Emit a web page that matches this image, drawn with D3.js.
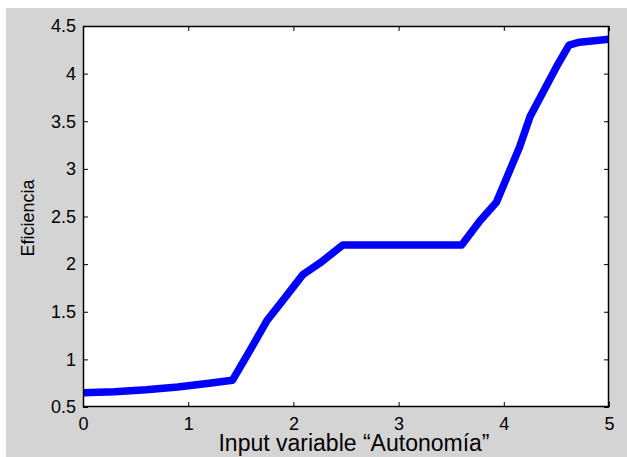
<!DOCTYPE html>
<html>
<head>
<meta charset="utf-8">
<script src="https://cdn.jsdelivr.net/npm/d3@7"></script>
<style>
  html, body { margin: 0; padding: 0; background: #ffffff; }
  svg { display: block; }
  text { font-family: "Liberation Sans", Arial, sans-serif; fill: #000; }
</style>
</head>
<body>
<svg id="chart" width="627" height="457"></svg>
<script>
// Data
const xValues = [0, 0.3, 0.6, 0.9, 1.2, 1.42, 1.59, 1.75, 1.9, 2.09, 2.25, 2.47, 3.6, 3.77, 3.93, 4.15, 4.25, 4.5, 4.62, 4.72, 5];
const yValues = [0.65, 0.66, 0.68, 0.71, 0.75, 0.78, 1.1, 1.41, 1.62, 1.89, 2.01, 2.2, 2.2, 2.45, 2.65, 3.23, 3.55, 4.07, 4.3, 4.33, 4.36];
const xTicks = [0, 1, 2, 3, 4, 5];
const yTicks = [0.5, 1, 1.5, 2, 2.5, 3, 3.5, 4, 4.5];
const xLabel = "Input variable \u201CAutonomía\u201D";
const yLabel = "Eficiencia";

const svg = d3.select("#chart");
const W = 627, H = 457;
const mLeft = 83, mRight = 609, mTop = 26, mBottom = 407;

// figure gray background
svg.append("rect").attr("x", 6).attr("y", 8).attr("width", W - 6).attr("height", H - 8).attr("fill", "#d4d4d4");

const x = d3.scaleLinear().domain([0, 5]).range([mLeft, mRight]);
const y = d3.scaleLinear().domain([0.5, 4.5]).range([mBottom, mTop]);

// plot area
svg.append("rect").attr("x", mLeft).attr("y", mTop).attr("width", mRight - mLeft).attr("height", mBottom - mTop).attr("fill", "#ffffff");

svg.append("clipPath").attr("id", "clip").append("rect")
  .attr("x", mLeft).attr("y", mTop).attr("width", mRight - mLeft).attr("height", mBottom - mTop);

const data = xValues.map((v, i) => [v, yValues[i]]);
svg.append("path")
  .datum(data)
  .attr("clip-path", "url(#clip)")
  .attr("fill", "none")
  .attr("stroke", "#0000ff")
  .attr("stroke-width", 7.5)
  .attr("stroke-linejoin", "round")
  .attr("d", d3.line().x(d => x(d[0])).y(d => y(d[1])));

// axes with inward ticks
const tickLen = 5;
const axB = d3.axisBottom(x).tickValues(xTicks).tickSize(-tickLen).tickPadding(10).tickFormat(d3.format("d"));
const axT = d3.axisTop(x).tickValues(xTicks).tickSize(-tickLen).tickFormat("");
const axL = d3.axisLeft(y).tickValues(yTicks).tickSize(-tickLen).tickPadding(7).tickFormat(d => String(d));
const axR = d3.axisRight(y).tickValues(yTicks).tickSize(-tickLen).tickFormat("");

function style(g) {
  g.selectAll(".domain").remove();
  g.selectAll(".tick line").attr("stroke", "#000").attr("stroke-width", 1);
  g.selectAll("text").attr("font-size", 18).attr("font-family", "Liberation Sans, Arial, sans-serif").attr("fill", "#000");
}
svg.append("g").attr("transform", `translate(0,${mBottom})`).call(axB).call(style);
svg.append("g").attr("transform", `translate(0,${mTop})`).call(axT).call(style);
svg.append("g").attr("transform", `translate(${mLeft},0)`).call(axL).call(style);
svg.append("g").attr("transform", `translate(${mRight},0)`).call(axR).call(style);

// frame
svg.append("rect").attr("x", mLeft + 0.5).attr("y", mTop + 0.5).attr("width", mRight - mLeft - 1).attr("height", mBottom - mTop - 1)
  .attr("fill", "none").attr("stroke", "#000").attr("stroke-width", 1.5);

// axis labels
svg.append("text").attr("x", 354).attr("y", 451).attr("text-anchor", "middle").attr("font-size", 23).text(xLabel);
svg.append("text").attr("transform", "translate(34,218) rotate(-90)").attr("text-anchor", "middle").attr("font-size", 18).text(yLabel);
</script>
</body>
</html>
